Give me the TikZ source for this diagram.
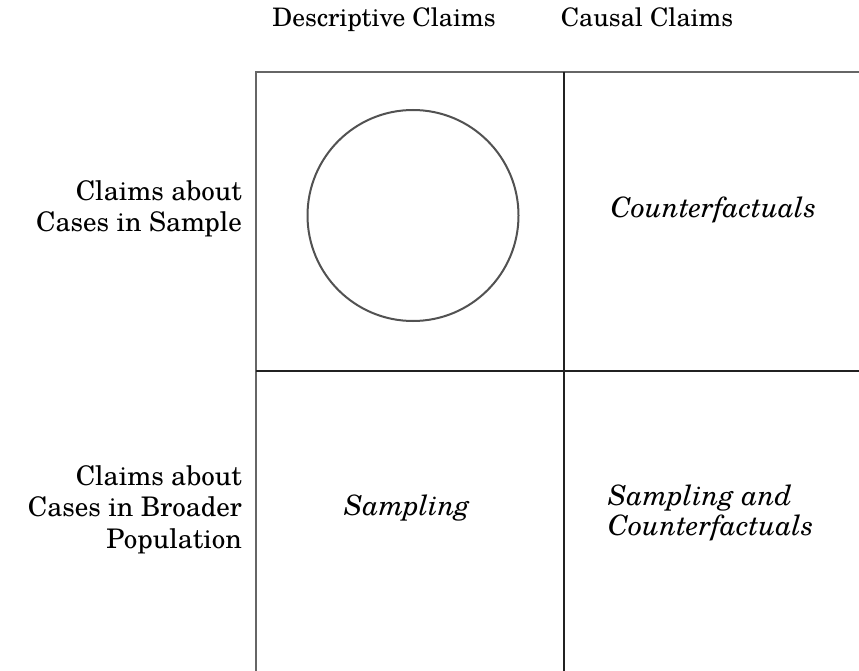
\documentclass[tikz,border=0pt]{standalone}
\usepackage{fontspec}
\setmainfont{TeX Gyre Schola}
\begin{document}
\begin{tikzpicture}[x=1pt,y=-1pt,
  label/.style={inner sep=0pt,anchor=base},
  heading/.style={label,font=\fontsize{25.5}{31}\selectfont},
  rowlabel/.style={label,anchor=base east,align=right,font=\fontsize{27}{31.5}\selectfont},
  cellitem/.style={label,font=\fontsize{28}{30}\selectfont\itshape},
  outer/.style={draw=black!60,line width=2pt},
  inner/.style={draw=black!87,line width=2.4pt},
  ring/.style={draw=black!68,line width=2pt}]
\useasboundingbox (0,0) rectangle (859,671);
% grid corners
\coordinate (tl) at (256,72);
\coordinate (tr) at (859,72);
\coordinate (bl) at (256,671);
\coordinate (tm) at (564,72);
\coordinate (bm) at (564,671);
\coordinate (ml) at (256,371);
\coordinate (mr) at (859,371);
% outer frame lines
\draw[outer] (bl) -- (tl) -- (tr);
% dividing lines
\draw[inner] (tm) -- (bm);
\draw[inner] (ml) -- (mr);
% column headings
\node[heading] (desc) at (384,27) {Descriptive Claims};
\node[heading] (caus) at (647,27) {Causal Claims};
% row headings (anchored on the baseline of the last line)
\node[rowlabel] (sample) at (242,232) {Claims about\\Cases in Sample};
\node[rowlabel] (pop) at (242,548) {Claims about\\Cases in Broader\\Population};
% cell contents
\node[ring,circle,minimum size=211pt,inner sep=0pt] (circ) at (413,215.5) {};
\node[cellitem] (cf) at (713.5,218) {Counterfactuals};
\node[cellitem] (samp) at (407,515) {Sampling};
\node[cellitem,anchor=base west,align=left] (both) at (608,535) {Sampling and\\Counterfactuals};
\end{tikzpicture}
\end{document}
